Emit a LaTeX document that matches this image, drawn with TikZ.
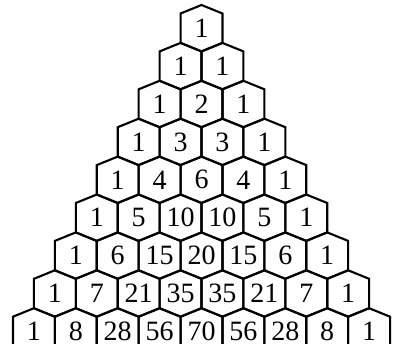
\documentclass[tikz,border=0pt]{standalone}
\usepackage{fontspec}
\setmainfont{Liberation Serif}
\begin{document}
\begin{tikzpicture}[x=1pt,y=-1pt,
  hexline/.style={line width=2.1pt, line join=miter},
  num/.style={font=\fontsize{28}{28}\selectfont, inner sep=0pt}]
\useasboundingbox (0,0) rectangle (397,349);
\begin{scope}
\clip (-5,-5) rectangle (402,343);
\foreach \i in {0,...,8} {
  \foreach \k in {0,...,\i} {
    \pgfmathsetmacro\cx{201.5+(\k-\i/2)*41.9}
    \pgfmathsetmacro\ay{5+37.9*\i}
    \draw[hexline] (\cx,\ay) -- ++(20.95,8.5) -- ++(0,29.4) -- ++(-20.95,8.5) -- ++(-20.95,-8.5) -- ++(0,-29.4) -- cycle;
  }
}
\end{scope}
\foreach \row [count=\i from 0] in {{1},{1,1},{1,2,1},{1,3,3,1},{1,4,6,4,1},{1,5,10,10,5,1},{1,6,15,20,15,6,1},{1,7,21,35,35,21,7,1},{1,8,28,56,70,56,28,8,1}} {
  \foreach \v [count=\k from 0] in \row {
    \pgfmathsetmacro\cx{201.5+(\k-\i/2)*41.9}
    \pgfmathsetmacro\cy{5+37.9*\i+23.2}
    \node[num] (n-\i-\k) at (\cx,\cy) {\v};
  }
}
\end{tikzpicture}
\end{document}
